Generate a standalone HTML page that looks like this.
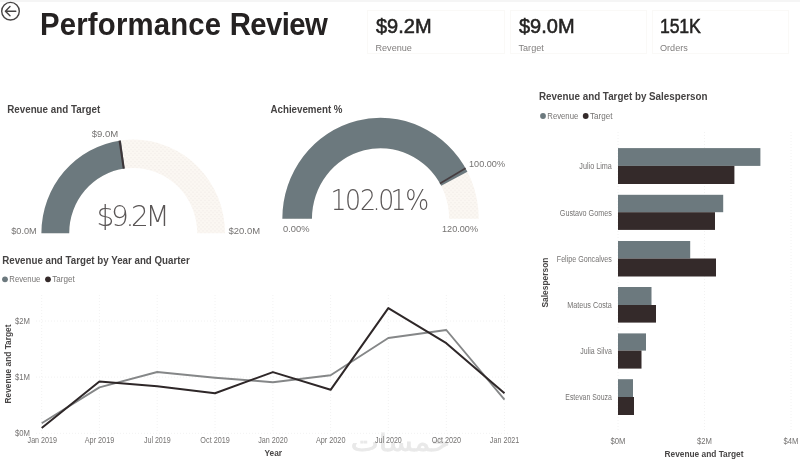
<!DOCTYPE html>
<html lang="en">
<head>
<meta charset="utf-8">
<title>Performance Review</title>
<style>
html,body{margin:0;padding:0;background:#fff;}
body{width:800px;height:460px;overflow:hidden;position:relative;filter:blur(0.45px);font-family:"Liberation Sans","DejaVu Sans",sans-serif;color:#252423;}
.topline{position:absolute;left:0;top:0;width:800px;height:1.5px;background:#f5f5f5;}
.back{position:absolute;left:0;top:0;width:22px;height:22px;}
h1{position:absolute;left:39.5px;top:8px;margin:0;font-size:31.2px;line-height:34px;font-weight:bold;transform:scaleX(0.94);transform-origin:0 0;white-space:nowrap;color:#252222;}
.card{position:absolute;top:10px;height:44px;border:1px solid #faf9f7;box-sizing:border-box;background:#fff;}
.card .v{position:absolute;left:8.5px;top:3.2px;font-size:20px;line-height:24px;white-space:nowrap;color:#252423;-webkit-text-stroke:0.55px #252423;}
.card .l{position:absolute;left:8px;top:31.1px;font-size:9.1px;line-height:12px;color:#807e7d;white-space:nowrap;}
svg.main{position:absolute;left:0;top:0;}
svg text{white-space:pre;font-family:"Liberation Sans","DejaVu Sans",sans-serif;}
.vtitle{font-size:10.4px;font-weight:bold;fill:#454343;}
.glbl{font-size:8.6px;fill:#757372;}
.gval{font-family:"DejaVu Sans","Liberation Sans",sans-serif;font-weight:200;fill:#5a5656;}
.leg{font-size:8.6px;fill:#757372;}
.ax{font-size:8.4px;fill:#757372;}
.axt{font-size:9.2px;font-weight:bold;fill:#484646;}
.grid{stroke:#f2f2f2;stroke-width:1;stroke-dasharray:1 2;}
.wm{font-family:"DejaVu Sans",sans-serif;font-size:27px;fill:#e9e9e9;stroke:#e9e9e9;stroke-width:0.9px;}
</style>
</head>
<body>
<div class="topline"></div>
<svg class="back" viewBox="0 0 22 22">
  <circle cx="10.5" cy="11.2" r="8.8" fill="none" stroke="#474444" stroke-width="1.4"/>
  <path d="M15.8 11.2 H5.6 M10 6.6 L5.4 11.2 L10 15.8" fill="none" stroke="#474444" stroke-width="1.4" stroke-linecap="round" stroke-linejoin="round"/>
</svg>
<h1><span style="letter-spacing:0.2px">Performance </span><span style="letter-spacing:-0.62px">Review</span></h1>
<div class="card" style="left:366.5px;width:138px;"><div class="v">$9.2M</div><div class="l">Revenue</div></div>
<div class="card" style="left:509.5px;width:137px;"><div class="v">$9.0M</div><div class="l">Target</div></div>
<div class="card" style="left:652px;width:137px;"><div class="v" style="left:6.6px;transform:scaleX(0.885);transform-origin:0 0;letter-spacing:-0.2px">151K</div><div class="l" style="left:7px">Orders</div></div>
<svg class="main" width="800" height="460" viewBox="0 0 800 460">
<defs>
<pattern id="dots" width="4" height="4" patternUnits="userSpaceOnUse">
<rect width="4" height="4" fill="#FBF7F2"/>
<rect x="0.5" y="0.5" width="1" height="1" fill="#eee9e6"/>
<rect x="2.5" y="2.5" width="1" height="1" fill="#eee9e6"/>
</pattern>
</defs>
<text transform="translate(400.3,450.6) scale(1.1,0.9)" x="0" y="0" class="wm" text-anchor="middle" direction="rtl">خمسات</text>
<g class="gauge">
<g transform="matrix(1,0,0,1.02,0,-4.664)">
<path d="M41.40,233.20 A91.8,91.8 0 0 1 225.00,233.20 L197.20,233.20 A64.0,64.0 0 0 0 69.20,233.20 Z" fill="url(#dots)"/>
<path d="M41.40,233.20 A91.8,91.8 0 0 1 120.90,142.23 L124.62,169.78 A64.0,64.0 0 0 0 69.20,233.20 Z" fill="#6C797E"/>
<path d="M119.63,142.41 L123.74,169.90" stroke="#3d3538" stroke-width="2.1" fill="none"/>
</g>
<text x="11.20" y="233.6" class="glbl" textLength="25.5" lengthAdjust="spacingAndGlyphs">$0.0M</text>
<text x="228.50" y="233.6" class="glbl" textLength="31.5" lengthAdjust="spacingAndGlyphs">$20.0M</text>
<text x="91.70" y="137.1" class="glbl" textLength="26.5" lengthAdjust="spacingAndGlyphs">$9.0M</text>
<text transform="scale(0.982,1)" x="98.2 113.1 127.9 133.3 148.2" y="226.4" class="gval" style="font-size:28.5px">$9.2M</text>
<text x="7.20" y="112.7" class="vtitle" textLength="93" lengthAdjust="spacingAndGlyphs">Revenue and Target</text>
</g>
<g class="gauge">
<g transform="matrix(1,0,0,1.027,0,-5.905)">
<path d="M282.35,218.70 A98.2,98.2 0 0 1 478.75,218.70 L449.15,218.70 A68.6,68.6 0 0 0 311.95,218.70 Z" fill="url(#dots)"/>
<path d="M282.35,218.70 A98.2,98.2 0 0 1 467.42,172.90 L441.23,186.71 A68.6,68.6 0 0 0 311.95,218.70 Z" fill="#6C797E"/>
<path d="M465.59,169.60 L439.96,184.40" stroke="#453c3f" stroke-width="1.6" fill="none"/>
</g>
<text x="283.00" y="232" class="glbl" textLength="26.5" lengthAdjust="spacingAndGlyphs">0.00%</text>
<text x="442.00" y="232" class="glbl" textLength="36" lengthAdjust="spacingAndGlyphs">120.00%</text>
<text x="469.00" y="167" class="glbl" textLength="36" lengthAdjust="spacingAndGlyphs">100.00%</text>
<text transform="scale(0.91,1)" x="363.2 379.0 395.5 409.3 415.8 429.1 445.4" y="209.6" class="gval" style="font-size:27.7px">102.01%</text>
<text x="270.50" y="112.7" class="vtitle" textLength="72" lengthAdjust="spacingAndGlyphs">Achievement %</text>
</g>
<g class="linechart">
<text x="2.20" y="263.7" class="vtitle" textLength="187.5" lengthAdjust="spacingAndGlyphs">Revenue and Target by Year and Quarter</text>
<circle cx="5" cy="279.3" r="2.9" fill="#6C797E"/>
<text x="9.30" y="282" class="leg" textLength="31" lengthAdjust="spacingAndGlyphs">Revenue</text>
<circle cx="48" cy="279.3" r="2.9" fill="#342A2A"/>
<text x="52.30" y="282" class="leg" textLength="22.5" lengthAdjust="spacingAndGlyphs">Target</text>
<line x1="41.7" y1="295" x2="41.7" y2="433.3" class="grid"/>
<line x1="99.4" y1="295" x2="99.4" y2="433.3" class="grid"/>
<line x1="157.2" y1="295" x2="157.2" y2="433.3" class="grid"/>
<line x1="215.0" y1="295" x2="215.0" y2="433.3" class="grid"/>
<line x1="272.9" y1="295" x2="272.9" y2="433.3" class="grid"/>
<line x1="330.6" y1="295" x2="330.6" y2="433.3" class="grid"/>
<line x1="388.3" y1="295" x2="388.3" y2="433.3" class="grid"/>
<line x1="446.3" y1="295" x2="446.3" y2="433.3" class="grid"/>
<line x1="504.5" y1="295" x2="504.5" y2="433.3" class="grid"/>
<line x1="36" y1="433.3" x2="510" y2="433.3" class="grid"/>
<line x1="36" y1="377.1" x2="510" y2="377.1" class="grid"/>
<line x1="36" y1="321.0" x2="510" y2="321.0" class="grid"/>
<text x="27.55" y="443.4" class="ax" textLength="29.5" lengthAdjust="spacingAndGlyphs">Jan 2019</text>
<text x="84.75" y="443.4" class="ax" textLength="29.5" lengthAdjust="spacingAndGlyphs">Apr 2019</text>
<text x="143.90" y="443.4" class="ax" textLength="26.8" lengthAdjust="spacingAndGlyphs">Jul 2019</text>
<text x="200.35" y="443.4" class="ax" textLength="29.5" lengthAdjust="spacingAndGlyphs">Oct 2019</text>
<text x="258.25" y="443.4" class="ax" textLength="29.5" lengthAdjust="spacingAndGlyphs">Jan 2020</text>
<text x="315.95" y="443.4" class="ax" textLength="29.5" lengthAdjust="spacingAndGlyphs">Apr 2020</text>
<text x="375.00" y="443.4" class="ax" textLength="26.8" lengthAdjust="spacingAndGlyphs">Jul 2020</text>
<text x="431.65" y="443.4" class="ax" textLength="29.5" lengthAdjust="spacingAndGlyphs">Oct 2020</text>
<text x="489.85" y="443.4" class="ax" textLength="29.5" lengthAdjust="spacingAndGlyphs">Jan 2021</text>
<text x="15.00" y="436.3" class="ax" textLength="15" lengthAdjust="spacingAndGlyphs">$0M</text>
<text x="15.00" y="380.1" class="ax" textLength="15" lengthAdjust="spacingAndGlyphs">$1M</text>
<text x="15.00" y="324.0" class="ax" textLength="15" lengthAdjust="spacingAndGlyphs">$2M</text>
<text x="264.55" y="456" class="axt" textLength="17.5" lengthAdjust="spacingAndGlyphs">Year</text>
<text transform="translate(10.5,364) rotate(-90)" class="axt" text-anchor="middle" textLength="79" lengthAdjust="spacingAndGlyphs">Revenue and Target</text>
<polyline points="41.7,423.2 99.4,387.4 157.2,372.0 215.0,377.7 272.9,382.2 330.6,375.2 388.3,338.0 446.3,330.0 504.5,399.6" fill="none" stroke="#858788" stroke-width="1.9" stroke-linejoin="round"/>
<polyline points="41.7,428.0 99.4,381.5 157.2,386.3 215.0,393.3 272.9,372.1 330.6,389.8 388.3,308.1 446.3,343.2 504.5,393.3" fill="none" stroke="#2e2728" stroke-width="2" stroke-linejoin="round"/>
</g>
<g class="barchart">
<text x="539.00" y="100.2" class="vtitle" textLength="168.5" lengthAdjust="spacingAndGlyphs">Revenue and Target by Salesperson</text>
<circle cx="543" cy="116" r="2.9" fill="#6C797E"/>
<text x="547.30" y="118.8" class="leg" textLength="31" lengthAdjust="spacingAndGlyphs">Revenue</text>
<circle cx="585.7" cy="116" r="2.9" fill="#342A2A"/>
<text x="590.00" y="118.8" class="leg" textLength="22.5" lengthAdjust="spacingAndGlyphs">Target</text>
<line x1="618.0" y1="132" x2="618.0" y2="432" class="grid"/>
<line x1="704.5" y1="132" x2="704.5" y2="432" class="grid"/>
<line x1="791.0" y1="132" x2="791.0" y2="432" class="grid"/>
<rect x="618.0" y="148.1" width="142.4" height="17.8" fill="#6C797E"/>
<rect x="618.0" y="165.9" width="116.4" height="18.1" fill="#342A2A"/>
<text x="579.30" y="169.20000000000002" class="ax" textLength="32.5" lengthAdjust="spacingAndGlyphs">Julio Lima</text>
<rect x="618.0" y="194.8" width="105.2" height="17.4" fill="#6C797E"/>
<rect x="618.0" y="212.2" width="97.0" height="17.7" fill="#342A2A"/>
<text x="559.80" y="215.5" class="ax" textLength="52" lengthAdjust="spacingAndGlyphs">Gustavo Gomes</text>
<rect x="618.0" y="241.0" width="72.2" height="17.5" fill="#6C797E"/>
<rect x="618.0" y="258.5" width="98.0" height="18.0" fill="#342A2A"/>
<text x="556.80" y="261.8" class="ax" textLength="55" lengthAdjust="spacingAndGlyphs">Felipe Goncalves</text>
<rect x="618.0" y="287.0" width="33.5" height="18.0" fill="#6C797E"/>
<rect x="618.0" y="305.0" width="38.0" height="17.6" fill="#342A2A"/>
<text x="567.30" y="308.3" class="ax" textLength="44.5" lengthAdjust="spacingAndGlyphs">Mateus Costa</text>
<rect x="618.0" y="333.4" width="28.0" height="17.2" fill="#6C797E"/>
<rect x="618.0" y="350.6" width="23.5" height="18.0" fill="#342A2A"/>
<text x="580.30" y="353.90000000000003" class="ax" textLength="31.5" lengthAdjust="spacingAndGlyphs">Julia Silva</text>
<rect x="618.0" y="379.2" width="15.0" height="17.8" fill="#6C797E"/>
<rect x="618.0" y="397.0" width="16.0" height="18.0" fill="#342A2A"/>
<text x="565.30" y="400.3" class="ax" textLength="46.5" lengthAdjust="spacingAndGlyphs">Estevan Souza</text>
<text x="610.50" y="444" class="ax" textLength="15" lengthAdjust="spacingAndGlyphs">$0M</text>
<text x="697.00" y="444" class="ax" textLength="15" lengthAdjust="spacingAndGlyphs">$2M</text>
<text x="783.50" y="444" class="ax" textLength="15" lengthAdjust="spacingAndGlyphs">$4M</text>
<text x="664.50" y="456.5" class="axt" textLength="79" lengthAdjust="spacingAndGlyphs">Revenue and Target</text>
<text transform="translate(548.3,282.5) rotate(-90)" class="axt" text-anchor="middle" textLength="50" lengthAdjust="spacingAndGlyphs">Salesperson</text>
</g>
</svg>
</body>
</html>
